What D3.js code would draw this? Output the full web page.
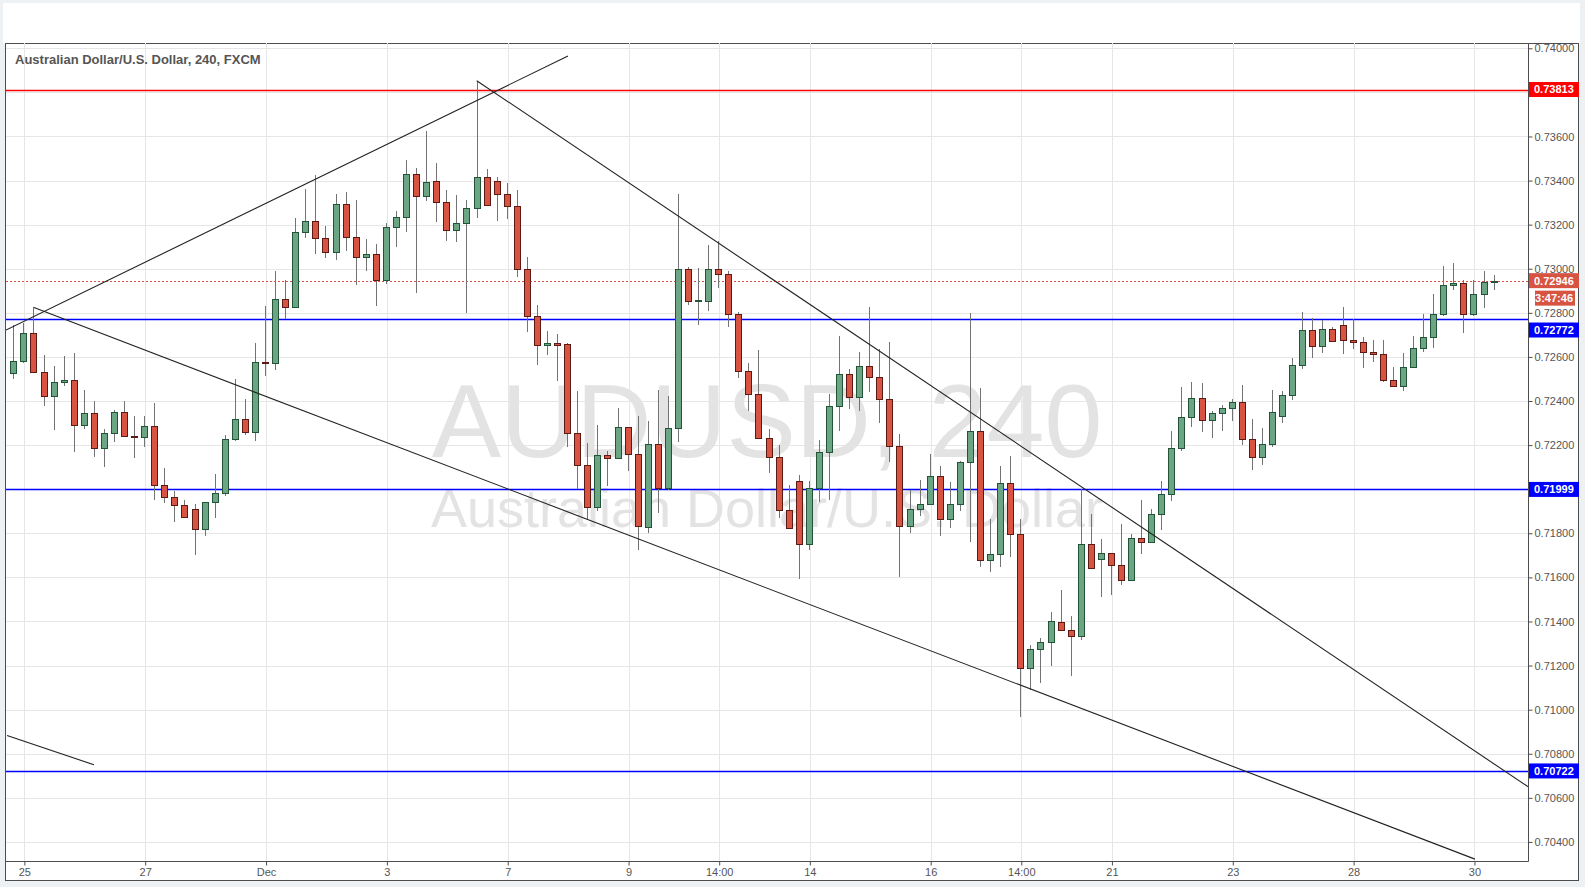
<!DOCTYPE html>
<html><head><meta charset="utf-8">
<script src="https://cdn.jsdelivr.net/npm/d3@7"></script>
<style>
body{margin:0;background:#eef1f4;}
svg{display:block;}
</style></head><body>
<svg id="c" width="1585" height="887"></svg>
<script>
// ---- DATA ----
const opens=[.72528,.72582,.72709,.72532,.72424,.72487,.72496,.72292,.72346,.72188,
.72256,.72351,.72242,.72238,.72287,.72020,.71965,.71929,.71911,.71820,
.71943,.71984,.72229,.72319,.72259,.72579,.72573,.72864,.72827,.73168,
.73217,.73140,.73077,.73295,.73145,.73054,.73068,.72948,.73190,.73236,
.73431,.73331,.73396,.73301,.73177,.73206,.73274,.73414,.73396,.73337,
.73283,.73000,.72784,.72652,.72661,.72657,.72253,.72108,.71918,.72153,
.72140,.72280,.72158,.71829,.72207,.72007,.72279,.73000,.72855,.72855,
.73000,.72978,.72796,.72538,.72433,.72234,.72148,.71907,.72039,.71753,
.72007,.72170,.72379,.72524,.72419,.72561,.72511,.72407,.72198,.71835,
.71912,.71931,.72062,.71867,.71935,.72123,.72266,.71681,.71708,.72026,
.71798,.71191,.71273,.71305,.71398,.71362,.71335,.71752,.71684,.71711,
.71657,.71589,.71779,.71761,.71888,.71979,.72188,.72328,.72414,.72315,
.72346,.72369,.72396,.72228,.72147,.72206,.72330,.72428,.72565,.72723,
.72651,.72728,.72746,.72678,.72669,.72624,.72614,.72497,.72470,.72555,
.72642,.72692,.72796,.72927,.72936,.72796,.72887,.72941];
const highs=[.72743,.72753,.72823,.72611,.72561,.72602,.72620,.72452,.72401,.72275,
.72357,.72402,.72330,.72334,.72392,.72097,.71990,.71949,.71931,.71943,
.72071,.72244,.72498,.72407,.72661,.72833,.72988,.72951,.73228,.73360,
.73423,.73192,.73337,.73346,.73314,.73137,.73110,.73208,.73264,.73494,
.73458,.73627,.73479,.73357,.73334,.73312,.73853,.73452,.73414,.73387,
.73357,.73052,.72834,.72717,.72702,.72663,.72445,.72209,.72291,.72173,
.72368,.72280,.72332,.72308,.72449,.72421,.73338,.73009,.73005,.73106,
.73124,.72990,.72805,.72574,.72630,.72275,.72202,.72018,.72063,.72036,
.72222,.72430,.72693,.72547,.72622,.72826,.72634,.72667,.72250,.71996,
.72041,.72159,.72104,.72032,.72127,.72798,.72458,.71867,.72104,.72150,
.71867,.71293,.71324,.71442,.71545,.71426,.72002,.71888,.71775,.71711,
.71843,.71797,.71949,.71911,.72035,.72262,.72464,.72488,.72484,.72355,
.72383,.72410,.72473,.72319,.72278,.72448,.72444,.72595,.72802,.72778,
.72766,.72737,.72825,.72773,.72692,.72675,.72675,.72555,.72620,.72693,
.72793,.72884,.73011,.73024,.72950,.72950,.72988,.72970];
const lows=[.72499,.72573,.72526,.72377,.72268,.72467,.72168,.72272,.72145,.72100,
.72213,.72242,.72141,.72191,.71952,.71937,.71850,.71875,.71701,.71787,
.71869,.71970,.72218,.72244,.72218,.72513,.72542,.72773,.72821,.73140,
.73066,.73048,.73039,.73080,.72926,.72989,.72833,.72930,.73098,.73166,
.72889,.73307,.73213,.73127,.73123,.72798,.73231,.73287,.73218,.73227,
.72961,.72711,.72565,.72610,.72492,.72193,.72001,.71863,.71903,.72016,
.72140,.72084,.71724,.71801,.71892,.71998,.72214,.72836,.72745,.72808,
.72913,.72736,.72506,.72355,.72234,.72074,.71869,.71826,.71594,.71726,
.71942,.71950,.72264,.72362,.72355,.72442,.72301,.72124,.71603,.71802,
.71878,.71931,.71788,.71825,.71903,.71761,.71648,.71625,.71648,.71693,
.70967,.71088,.71122,.71199,.71362,.71153,.71317,.71639,.71511,.71520,
.71566,.71589,.71707,.71761,.71816,.71947,.72174,.72283,.72260,.72233,
.72265,.72310,.72201,.72088,.72110,.72190,.72300,.72403,.72545,.72595,
.72617,.72673,.72613,.72636,.72549,.72577,.72486,.72470,.72447,.72555,
.72622,.72640,.72785,.72903,.72708,.72785,.72822,.72903];
const closes=[.72582,.72709,.72532,.72424,.72487,.72496,.72292,.72346,.72188,.72256,
.72351,.72242,.72238,.72287,.72020,.71965,.71929,.71875,.71820,.71943,
.71984,.72229,.72319,.72259,.72579,.72573,.72864,.72827,.73168,.73217,
.73140,.73077,.73295,.73145,.73054,.73068,.72948,.73190,.73236,.73431,
.73331,.73394,.73301,.73177,.73206,.73274,.73414,.73287,.73337,.73283,
.73000,.72784,.72652,.72661,.72655,.72253,.72108,.71918,.72153,.72140,
.72280,.72158,.71833,.72207,.72007,.72279,.73000,.72855,.72858,.73000,
.72978,.72796,.72538,.72433,.72234,.72148,.71907,.71826,.71753,.72007,
.72170,.72379,.72524,.72419,.72561,.72511,.72407,.72198,.71835,.71912,
.71931,.72062,.71867,.71935,.72123,.72266,.71681,.71708,.72026,.71798,
.71191,.71273,.71305,.71400,.71362,.71335,.71752,.71643,.71711,.71657,
.71589,.71779,.71761,.71888,.71979,.72188,.72328,.72414,.72315,.72346,
.72369,.72396,.72228,.72147,.72206,.72350,.72428,.72565,.72723,.72651,
.72728,.72673,.72678,.72669,.72624,.72614,.72497,.72470,.72555,.72642,
.72692,.72796,.72927,.72936,.72796,.72887,.72941,.72946];

const xTickIndex=[1,13,25,37,49,61,70,79,91,100,109,121,133,145];
const xTickLabels=["25","27","Dec","3","7","9","14:00","14","16","14:00","21","23","28","30"];
const gridPrices=[0.704,0.706,0.708,0.710,0.712,0.714,0.716,0.718,0.720,0.722,0.724,0.726,0.728,0.730,0.732,0.734,0.736,0.738,0.740];
const priceLabels=[0.704,0.706,0.708,0.710,0.712,0.714,0.716,0.718,0.722,0.724,0.726,0.728,0.730,0.732,0.734,0.736,0.740];
const levelPrices=[0.73813,0.72772,0.71999,0.70722];
const levelColors=["#ff0000","#0000ff","#0000ff","#0000ff"];
const lastPrice=0.72946;
const countdown="3:47:46";
const trendLines=[
  [[-0.82,0.72722],[54.98,0.73965]],
  [[1.89,0.72825],[145.05,0.70322]],
  [[45.92,0.73853],[150.4,0.70648]],
  [[-0.72,0.70883],[7.91,0.70750]]
];
const title="Australian Dollar/U.S. Dollar, 240, FXCM";
const watermark1="AUDUSD, 240";
const watermark2="Australian Dollar/U.S. Dollar";

// ---- LAYOUT ----
const L=6, R=1528, T=43, B=861;
const svg=d3.select("#c");
const xs=d3.scaleLinear().domain([0,147]).range([14.3,14.3+147*10.07]);
const ys=d3.scaleLinear().domain([0.703135,0.74024]).range([B,T]);
const FONT="'Liberation Sans', Arial, sans-serif";

svg.append("rect").attr("x",3).attr("y",3).attr("width",1577).attr("height",41).attr("fill","#fff");
svg.append("rect").attr("x",5.5).attr("y",43.5).attr("width",1573).attr("height",837).attr("fill","#fff").attr("stroke","#4d4d4d");

svg.append("defs").append("clipPath").attr("id","clip").append("rect")
  .attr("x",L).attr("y",T+1).attr("width",R-L).attr("height",B-T-1);

// grid
const gx=svg.append("g").attr("transform",`translate(0,${B})`)
  .call(d3.axisBottom(xs).tickValues(xTickIndex).tickFormat("").tickSize(-(B-T)).tickSizeOuter(0));
gx.select(".domain").remove();
gx.selectAll("line").attr("stroke","#e6e6e6").attr("shape-rendering","crispEdges");
const gy=svg.append("g").attr("transform",`translate(${R},0)`)
  .call(d3.axisLeft(ys).tickValues(gridPrices).tickFormat("").tickSize(R-L).tickSizeOuter(0));
gy.select(".domain").remove();
gy.selectAll("line").attr("stroke","#e6e6e6").attr("shape-rendering","crispEdges");

const plot=svg.append("g").attr("clip-path","url(#clip)");

// watermark
plot.append("text").attr("x",(L+R)/2).attr("y",457).attr("text-anchor","middle")
  .attr("font-family",FONT).attr("font-size",104).attr("fill","#e3e3e3").text(watermark1);
plot.append("text").attr("x",(L+R)/2).attr("y",527).attr("text-anchor","middle")
  .attr("font-family",FONT).attr("font-size",54).attr("fill","#e3e3e3").text(watermark2);

// level lines
levelPrices.forEach((p,k)=>{
  const y=Math.round(ys(p))+0.5;
  plot.append("path").attr("d",`M${L},${y}H${R}`)
    .attr("fill","none").style("stroke",levelColors[k]).attr("stroke-width",1.3);
});
{
  const y=Math.round(ys(lastPrice))+0.5;
  plot.append("path").attr("d",`M${L},${y}H${R}`).attr("fill","none")
    .style("stroke","#d75442").attr("stroke-dasharray","2,2");
}

// candles
const idx=d3.range(opens.length);
const cg=plot.append("g");
idx.forEach(i=>{
  const cx=Math.round(xs(i));
  const up=closes[i]>=opens[i];
  cg.append("line").attr("x1",cx-0.5).attr("x2",cx-0.5)
    .attr("y1",Math.round(ys(highs[i]))).attr("y2",Math.round(ys(lows[i])))
    .attr("stroke","#737375").attr("stroke-width",1);
  const top=Math.round(ys(Math.max(opens[i],closes[i])))+0.5;
  const bot=Math.round(ys(Math.min(opens[i],closes[i])))+0.5;
  cg.append("rect").attr("x",cx-3.5).attr("y",top).attr("width",6).attr("height",Math.max(1,bot-top))
    .attr("fill",up?"#6ba583":"#d75442").attr("stroke",up?"#225437":"#5b1a13").attr("stroke-width",1);
});

// trend lines
const lineGen=d3.line().x(d=>xs(d[0])).y(d=>ys(d[1]));
trendLines.forEach(tl=>{
  plot.append("path").attr("d",lineGen(tl)).attr("fill","none").attr("stroke","#222").attr("stroke-width",1.1);
});

// axes lines
svg.append("line").attr("x1",R+0.5).attr("x2",R+0.5).attr("y1",T).attr("y2",B+0.5).attr("stroke","#4d4d4d");
svg.append("line").attr("x1",L).attr("x2",R+0.5).attr("y1",B+0.5).attr("y2",B+0.5).attr("stroke","#4d4d4d");

// price axis
const ay=svg.append("g").attr("transform",`translate(${R+0.5},0)`)
  .call(d3.axisRight(ys).tickValues(priceLabels).tickFormat(d3.format(".5f")).tickSize(4).tickPadding(2));
ay.select(".domain").remove();
ay.selectAll("line").attr("stroke","#4d4d4d");
ay.selectAll("text").attr("font-family",FONT).attr("font-size",11).attr("fill","#555");

// x axis
const ax=svg.append("g").attr("transform",`translate(0,${B+0.5})`)
  .call(d3.axisBottom(xs).tickValues(xTickIndex).tickFormat((d,i)=>xTickLabels[i]).tickSize(4).tickPadding(3));
ax.select(".domain").remove();
ax.selectAll("line").attr("stroke","#4d4d4d");
ax.selectAll("text").attr("font-family",FONT).attr("font-size",11).attr("fill","#555");

// price label boxes (the 0.72772 box is pushed down to clear the 0.72800 label, as in the reference)
function priceBox(p,color,text,shift){
  const y=ys(p)+(shift||0);
  svg.append("rect").attr("x",R+1).attr("y",y-7.5).attr("width",50).attr("height",15).attr("fill",color);
  svg.append("text").attr("x",R+6).attr("y",y).attr("dy","0.36em").attr("font-family",FONT)
    .attr("font-size",11).attr("font-weight","bold").attr("fill","#fff").text(text);
}
levelPrices.forEach((p,k)=>priceBox(p,levelColors[k],d3.format(".5f")(p),k===1?11:0));
priceBox(lastPrice,"#d75442",d3.format(".5f")(lastPrice));
{
  const y=ys(lastPrice)+17.5;
  svg.append("rect").attr("x",R+7).attr("y",y-7.5).attr("width",40).attr("height",15).attr("fill","#d75442");
  svg.append("text").attr("x",R+45).attr("y",y).attr("dy","0.36em").attr("text-anchor","end").attr("font-family",FONT)
    .attr("font-size",11).attr("font-weight","bold").attr("fill","#fff").text(countdown);
}

// title
svg.append("text").attr("x",15).attr("y",64).attr("font-family",FONT).attr("font-size",13)
  .attr("font-weight","bold").attr("fill","#555").text(title);
</script>
</body></html>
